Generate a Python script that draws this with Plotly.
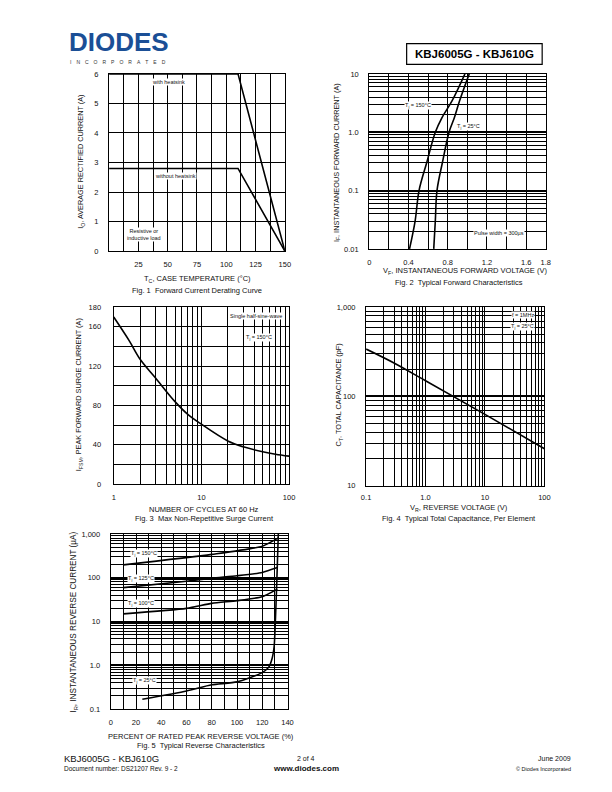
import plotly.graph_objects as go

W, H = 612, 792
FONT = "Liberation Sans, Arial, sans-serif"

# ---------------- data ----------------
# Fig 1: Forward current derating
f1_temp_hs = [0, 110, 150]
f1_io_hs = [6, 6, 0]
f1_temp_nohs = [0, 110, 150]
f1_io_nohs = [2.8, 2.8, 0]
f1_xticks = [25, 50, 75, 100, 125, 150]
f1_yticks = [0, 1, 2, 3, 4, 5, 6]

# Fig 2: forward characteristics
f2_if = [0.01, 0.03, 0.1, 0.3, 1.0, 1.77, 3.4, 10]
f2_vf_150 = [0.41, 0.467, 0.507, 0.585, 0.673, 0.74, 0.842, 0.975]
f2_vf_25 = [0.657, 0.673, 0.69, 0.745, 0.813, 0.867, 0.919, 1.019]
f2_xticks = [0, 0.4, 0.8, 1.2, 1.6, 1.8]
f2_xlabels = ["0", "0.4", "0.8", "1.2", "1.6", "1.8"]
f2_yticks = [0.01, 0.1, 1, 10]
f2_ylabels = ["0.01", "0.1", "1.0", "10"]

# Fig 3: surge current
f3_cycles = [1, 1.5, 2, 3, 5, 7, 10, 20, 30, 50, 70, 100]
f3_ifsm = [170, 146, 127, 108, 84, 71, 61, 44, 38, 33, 30.5, 28.5]
f3_yticks = [0, 40, 80, 120, 160, 180]
f3_xticks = [1, 10, 100]
f3_xlabels = ["1", "10", "100"]

# Fig 4: capacitance
f4_vr = [0.1, 0.3, 1, 10, 100]
f4_ct = [340, 236, 150, 63, 26]
f4_xticks = [0.1, 1, 10, 100]
f4_xlabels = ["0.1", "1.0", "10", "100"]
f4_yticks = [10, 100, 1000]
f4_ylabels = ["10", "100", "1,000"]

# Fig 5: reverse characteristics
f5_pct_150 = [10, 80, 120, 132.7]
f5_ir_150 = [196, 341, 525, 812]
f5_pct_125 = [10, 60, 80, 100, 120, 131.9]
f5_ir_125 = [59.5, 83, 98, 111, 132, 171]
f5_pct_100 = [10, 60, 80, 100, 120, 131.9]
f5_ir_100 = [15, 20, 26, 30, 37, 55]
f5_pct_25 = [25, 60, 80, 100, 119.2, 125, 127.5, 129.4, 130.2, 131.5, 132.7]
f5_ir_25 = [0.168, 0.26, 0.36, 0.42, 0.667, 0.9, 1.34, 2.7, 7.6, 80, 1000]
f5_xticks = [0, 20, 40, 60, 80, 100, 120, 140]
f5_yticks = [0.1, 1, 10, 100, 1000]
f5_ylabels = ["0.1", "1.0", "10", "100", "1,000"]


def minor_log(lo, hi):
    vals = []
    d = lo
    while d < hi:
        for k in range(2, 10):
            vals.append(k * 10 ** d)
        d += 1
    return vals


def px_x(x):
    return x / W


def px_y(y):
    return 1 - y / H


def dom_x(a, b):
    return [px_x(a), px_x(b)]


def dom_y(top, bottom):
    return [px_y(bottom), px_y(top)]


fig = go.Figure()
LINE = dict(color="black", width=1.6)

fig.add_trace(go.Scatter(x=f1_temp_hs, y=f1_io_hs, mode="lines", line=LINE, xaxis="x", yaxis="y"))
fig.add_trace(go.Scatter(x=f1_temp_nohs, y=f1_io_nohs, mode="lines", line=LINE, xaxis="x", yaxis="y"))
fig.add_trace(go.Scatter(x=f2_vf_150, y=f2_if, mode="lines", line=dict(shape="spline", **LINE), xaxis="x2", yaxis="y2"))
fig.add_trace(go.Scatter(x=f2_vf_25, y=f2_if, mode="lines", line=dict(shape="spline", **LINE), xaxis="x2", yaxis="y2"))
fig.add_trace(go.Scatter(x=f3_cycles, y=f3_ifsm, mode="lines", line=dict(shape="spline", **LINE), xaxis="x3", yaxis="y3"))
fig.add_trace(go.Scatter(x=f4_vr, y=f4_ct, mode="lines", line=dict(shape="spline", **LINE), xaxis="x4", yaxis="y4"))
for xs, ys in [(f5_pct_150, f5_ir_150), (f5_pct_125, f5_ir_125), (f5_pct_100, f5_ir_100), (f5_pct_25, f5_ir_25)]:
    fig.add_trace(go.Scatter(x=xs, y=ys, mode="lines", line=dict(shape="spline", smoothing=0.6, **LINE), xaxis="x5", yaxis="y5"))

TICKFONT = dict(family=FONT, size=7.5, color="#111")


def lin_axis(domain, rng, tickvals, ticktext, anchor, minor_dtick, standoff=4):
    return dict(domain=domain, range=rng, tickmode="array", tickvals=tickvals, ticktext=ticktext,
                showgrid=True, gridcolor="black", gridwidth=1, showline=True, linecolor="black",
                linewidth=1.2, mirror=True, ticks="", zeroline=False, anchor=anchor,
                tickfont=TICKFONT, ticklabelstandoff=standoff, fixedrange=True,
                minor=dict(tickmode="linear", tick0=0, dtick=minor_dtick, showgrid=True,
                           gridcolor="black", gridwidth=1, ticks=""))


def log_axis(domain, lo, hi, tickvals, ticktext, anchor, majw=1, standoff=4):
    return dict(domain=domain, type="log", range=[lo, hi], tickmode="array", tickvals=tickvals,
                ticktext=ticktext, showgrid=True, gridcolor="black", gridwidth=majw, showline=True,
                linecolor="black", linewidth=1.2, mirror=True, ticks="", zeroline=False, anchor=anchor,
                tickfont=TICKFONT, ticklabelstandoff=standoff, fixedrange=True,
                minor=dict(tickmode="array", tickvals=minor_log(lo, hi), showgrid=True,
                           gridcolor="black", gridwidth=1, ticks=""))


layout = dict(
    width=W, height=H, autosize=False, margin=dict(l=0, r=0, t=0, b=0),
    paper_bgcolor="white", plot_bgcolor="white", showlegend=False,
    font=dict(family=FONT, color="#111"),
    xaxis=lin_axis(dom_x(106, 285), [0, 150], f1_xticks, [str(v) for v in f1_xticks], "y", 12.5, 6),
    yaxis=lin_axis(dom_y(70.7, 250), [0, 6], f1_yticks, [str(v) for v in f1_yticks], "x", 1, 8),
    xaxis2=lin_axis(dom_x(371, 550.7), [0, 1.8], f2_xticks, f2_xlabels, "y2", 0.2, 6),
    yaxis2=log_axis(dom_y(70.7, 247.7), -2, 1, f2_yticks, f2_ylabels, "x2", 2.2, 8),
    xaxis3=log_axis(dom_x(110.7, 289.3), 0, 2, f3_xticks, f3_xlabels, "y3", 1, 6),
    yaxis3=lin_axis(dom_y(306.7, 485.7), [0, 180], f3_yticks, [str(v) for v in f3_yticks], "x3", 20, 10),
    xaxis4=log_axis(dom_x(367.7, 549.3), -1, 2, f4_xticks, f4_xlabels, "y4", 1, 4),
    yaxis4=log_axis(dom_y(306.7, 487.3), 1, 3, f4_yticks, f4_ylabels, "x4", 2, 8),
    xaxis5=lin_axis(dom_x(107.7, 287.7), [0, 140], f5_xticks, [str(v) for v in f5_xticks], "y5", 10, 6),
    yaxis5=log_axis(dom_y(536, 713.3), -1, 3, f5_yticks, f5_ylabels, "x5", 2.4, 8),
)
fig.update_layout(**layout)

ann = []


def text(x, y, s, size=7.5, xanchor="center", yanchor="middle", angle=0, bg=None, bold=False, color="#111"):
    d = dict(x=px_x(x), y=px_y(y), xref="paper", yref="paper", text=s, showarrow=False,
             xanchor=xanchor, yanchor=yanchor, textangle=angle,
             font=dict(family=FONT, size=size, color=color))
    if bg:
        d["bgcolor"] = bg
        d["borderpad"] = 0
    if bold:
        d["text"] = "<b>" + s + "</b>"
    ann.append(d)


# header
text(63, 38.5, "DIODES", size=26, xanchor="left", bold=True, color="#1b4f96")
text(64, 58.5, "\u2003".join("INCORPORATED"), size=5, xanchor="left", color="#333")
text(478, 50.5, "KBJ6005G - KBJ610G", size=11.5, bold=True, color="black")

# fig 1
text(78, 160, "I<sub>O</sub>, AVERAGE RECTIFIED CURRENT (A)", size=7.3, angle=-90)
text(196, 278, "T<sub>C</sub>, CASE TEMPERATURE (°C)", size=7.5)
text(196, 290, "Fig. 1  Forward Current Derating Curve", size=7.5)
text(167, 78.5, "with heatsink", size=5.5, bg="white")
text(174, 174, "without heatsink", size=5.5, bg="white")
text(142, 233, "Resistive or<br>inductive load", size=5.5, bg="white")

# fig 2
text(338, 160, "I<sub>F</sub>, INSTANTANEOUS FORWARD CURRENT (A)", size=7.3, angle=-90)
text(468, 270, "V<sub>F</sub>, INSTANTANEOUS FORWARD VOLTAGE (V)", size=7.5)
text(462, 282, "Fig. 2  Typical Forward Characteristics", size=7.5)
text(421, 103, "T<sub>j</sub> = 150°C", size=5.5, bg="white")
text(472, 124, "T<sub>j</sub> = 25°C", size=5.5, bg="white")
text(503, 232, "Pulse width = 300µs", size=5.5, bg="white")

# fig 3
text(75, 395, "I<sub>FSM</sub>, PEAK FORWARD SURGE CURRENT (A)", size=7.3, angle=-90)
text(203, 511, "NUMBER OF CYCLES AT 60 Hz", size=7.5)
text(203, 520, "Fig. 3  Max Non-Repetitive Surge Current", size=7.5)
text(256, 316, "Single half-sine-wave", size=5.5, bg="white")
text(259, 337.5, "T<sub>j</sub> = 150°C", size=5.5, bg="white")

# fig 4
text(340, 395, "C<sub>T</sub>, TOTAL CAPACITANCE (pF)", size=7.3, angle=-90)
text(462, 509.5, "V<sub>R</sub>, REVERSE VOLTAGE (V)", size=7.5)
text(462, 520, "Fig. 4  Typical Total Capacitance, Per Element", size=7.5)
text(527, 315, "f = 1MHz", size=5.5, bg="white")
text(527, 326.5, "T<sub>j</sub> = 25°C", size=5.5, bg="white")

# fig 5
text(70, 625, "I<sub>R</sub>, INSTANTANEOUS REVERSE CURRENT (µA)", size=8.2, angle=-90)
text(200, 741, "PERCENT OF RATED PEAK REVERSE VOLTAGE (%)", size=7.5)
text(200, 750, "Fig. 5  Typical Reverse Characteristics", size=7.5)
text(142, 556, "T<sub>j</sub> = 150°C", size=5.5, bg="white")
text(138, 581, "T<sub>j</sub> = 125°C", size=5.5, bg="white")
text(138, 606, "T<sub>j</sub> = 100°C", size=5.5, bg="white")
text(142, 684.5, "T<sub>j</sub> = 25°C", size=5.5, bg="white")

# footer
text(58, 763, "KBJ6005G - KBJ610G", size=9.5, xanchor="left")
text(58, 773.5, "Document number: DS21207 Rev. 9 - 2", size=6.5, xanchor="left")
text(306, 763, "2 of 4", size=7)
text(306, 773.5, "www.diodes.com", size=8, bold=True)
text(578, 763, "June 2009", size=7, xanchor="right")
text(578, 773.5, "© Diodes Incorporated", size=5.5, xanchor="right")

fig.update_layout(annotations=ann)
fig.add_shape(type="rect", xref="paper", yref="paper", x0=px_x(409), x1=px_x(547),
              y0=px_y(61), y1=px_y(40), line=dict(color="black", width=1.2))

fig.write_html("out.html", config={"displayModeBar": False},
               post_script="document.body.style.margin='0';document.body.style.overflow='hidden';")
